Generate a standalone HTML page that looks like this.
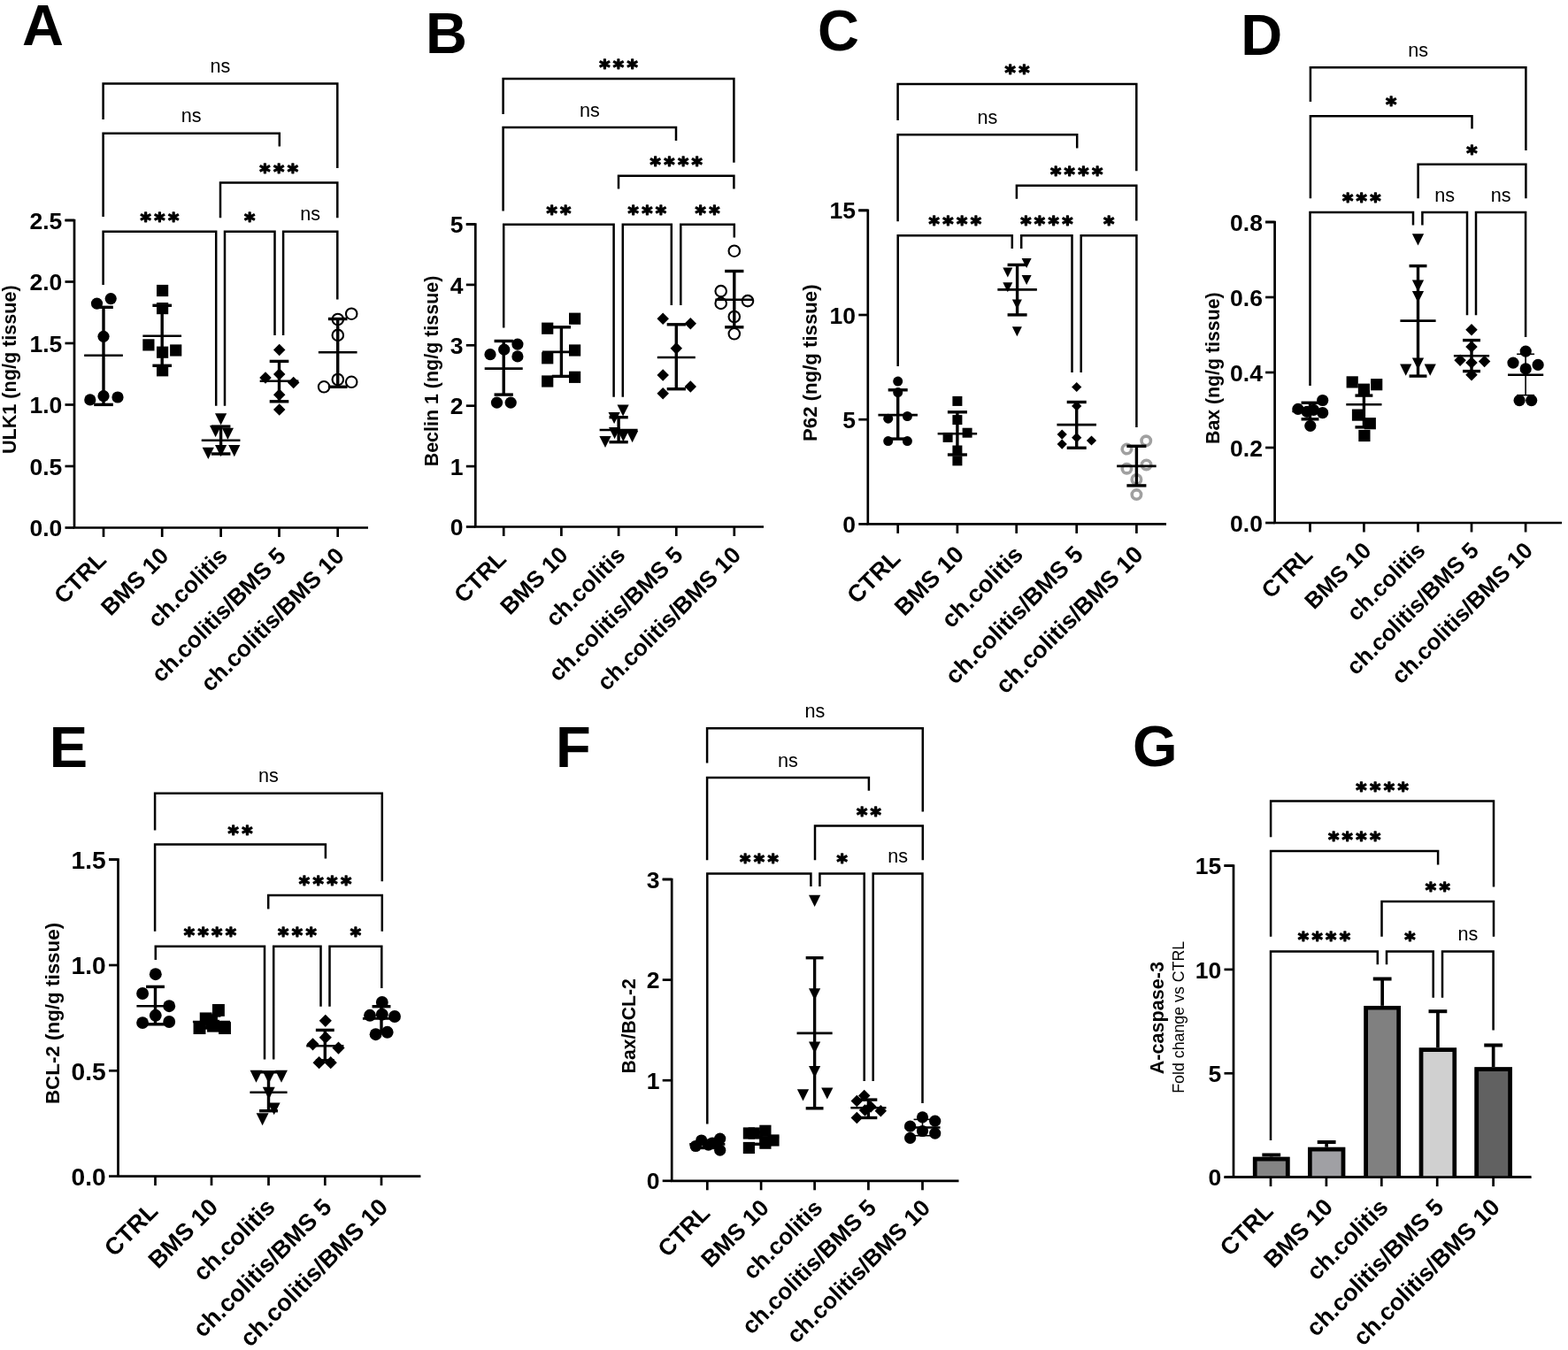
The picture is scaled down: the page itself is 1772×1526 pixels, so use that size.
<!DOCTYPE html>
<html><head><meta charset="utf-8"><title>Figure</title>
<style>html,body{margin:0;padding:0;background:#fff;width:1772px;height:1526px;overflow:hidden}svg{display:block}</style>
</head><body>
<svg width="1772" height="1526" viewBox="0 0 1772 1526">
<rect width="1772" height="1526" fill="#fff"/>
<polyline points="73.5,249 84,249 84,596.5 416,596.5" fill="none" stroke="#000" stroke-width="2.7"/>
<line x1="73.5" y1="596.5" x2="84" y2="596.5" stroke="#000" stroke-width="2.7" stroke-linecap="butt"/>
<text x="70.3" y="606.1" font-family="'Liberation Sans', Arial, sans-serif" font-size="26.5" font-weight="bold" text-anchor="end">0.0</text>
<line x1="73.5" y1="527" x2="84" y2="527" stroke="#000" stroke-width="2.7" stroke-linecap="butt"/>
<text x="70.3" y="536.6" font-family="'Liberation Sans', Arial, sans-serif" font-size="26.5" font-weight="bold" text-anchor="end">0.5</text>
<line x1="73.5" y1="457.5" x2="84" y2="457.5" stroke="#000" stroke-width="2.7" stroke-linecap="butt"/>
<text x="70.3" y="467.1" font-family="'Liberation Sans', Arial, sans-serif" font-size="26.5" font-weight="bold" text-anchor="end">1.0</text>
<line x1="73.5" y1="388" x2="84" y2="388" stroke="#000" stroke-width="2.7" stroke-linecap="butt"/>
<text x="70.3" y="397.6" font-family="'Liberation Sans', Arial, sans-serif" font-size="26.5" font-weight="bold" text-anchor="end">1.5</text>
<line x1="73.5" y1="318.5" x2="84" y2="318.5" stroke="#000" stroke-width="2.7" stroke-linecap="butt"/>
<text x="70.3" y="328.1" font-family="'Liberation Sans', Arial, sans-serif" font-size="26.5" font-weight="bold" text-anchor="end">2.0</text>
<line x1="73.5" y1="249" x2="84" y2="249" stroke="#000" stroke-width="2.7" stroke-linecap="butt"/>
<text x="70.3" y="258.6" font-family="'Liberation Sans', Arial, sans-serif" font-size="26.5" font-weight="bold" text-anchor="end">2.5</text>
<line x1="117" y1="596.5" x2="117" y2="607" stroke="#000" stroke-width="2.7" stroke-linecap="butt"/>
<line x1="183.2" y1="596.5" x2="183.2" y2="607" stroke="#000" stroke-width="2.7" stroke-linecap="butt"/>
<line x1="249.6" y1="596.5" x2="249.6" y2="607" stroke="#000" stroke-width="2.7" stroke-linecap="butt"/>
<line x1="315.5" y1="596.5" x2="315.5" y2="607" stroke="#000" stroke-width="2.7" stroke-linecap="butt"/>
<line x1="381.7" y1="596.5" x2="381.7" y2="607" stroke="#000" stroke-width="2.7" stroke-linecap="butt"/>
<text x="121.5" y="634.5" font-family="'Liberation Sans', Arial, sans-serif" font-size="26.3" font-weight="bold" text-anchor="end" transform="rotate(-45 121.5 634.5)">CTRL</text>
<text x="192.2" y="630" font-family="'Liberation Sans', Arial, sans-serif" font-size="26.3" font-weight="bold" text-anchor="end" transform="rotate(-45 192.2 630)">BMS 10</text>
<text x="258.6" y="630" font-family="'Liberation Sans', Arial, sans-serif" font-size="26.3" font-weight="bold" text-anchor="end" transform="rotate(-45 258.6 630)">ch.colitis</text>
<text x="324.5" y="630" font-family="'Liberation Sans', Arial, sans-serif" font-size="26.3" font-weight="bold" text-anchor="end" transform="rotate(-45 324.5 630)">ch.colitis/BMS 5</text>
<text x="390.7" y="630" font-family="'Liberation Sans', Arial, sans-serif" font-size="26.3" font-weight="bold" text-anchor="end" transform="rotate(-45 390.7 630)">ch.colitis/BMS 10</text>
<text x="17.9" y="417.7" font-family="'Liberation Sans', Arial, sans-serif" font-size="21.6" font-weight="bold" text-anchor="middle" transform="rotate(-90 17.9 417.7)">ULK1 (ng/g tissue)</text>
<text x="25" y="50.6" font-family="'Liberation Sans', Arial, sans-serif" font-size="65" font-weight="bold" text-anchor="start">A</text>
<polyline points="116.6,135 116.6,94.6 381.3,94.6 381.3,190" fill="none" stroke="#000" stroke-width="2.5" stroke-linejoin="miter"/>
<text x="248.95" y="82.2" font-family="'Liberation Sans', Arial, sans-serif" font-size="21.6" font-weight="normal" text-anchor="middle">ns</text>
<polyline points="116.6,245 116.6,150.7 315.8,150.7 315.8,165.6" fill="none" stroke="#000" stroke-width="2.5" stroke-linejoin="miter"/>
<text x="216.2" y="138.3" font-family="'Liberation Sans', Arial, sans-serif" font-size="21.6" font-weight="normal" text-anchor="middle">ns</text>
<polyline points="249,246.3 249,206.5 381.3,206.5 381.3,246.3" fill="none" stroke="#000" stroke-width="2.5" stroke-linejoin="miter"/>
<text x="316.85" y="201.54" font-family="'DejaVu Sans', 'Liberation Sans', sans-serif" font-size="23.5" font-weight="bold" text-anchor="middle" letter-spacing="3.4" stroke="#000" stroke-width="1.3" stroke-linejoin="round">***</text>
<polyline points="116.6,322 116.6,261.8 244.2,261.8 244.2,458.7" fill="none" stroke="#000" stroke-width="2.5" stroke-linejoin="miter"/>
<text x="182.1" y="256.84" font-family="'DejaVu Sans', 'Liberation Sans', sans-serif" font-size="23.5" font-weight="bold" text-anchor="middle" letter-spacing="3.4" stroke="#000" stroke-width="1.3" stroke-linejoin="round">***</text>
<polyline points="254,458.7 254,261.8 310.5,261.8 310.5,378.9" fill="none" stroke="#000" stroke-width="2.5" stroke-linejoin="miter"/>
<text x="283.95" y="256.84" font-family="'DejaVu Sans', 'Liberation Sans', sans-serif" font-size="23.5" font-weight="bold" text-anchor="middle" letter-spacing="3.4" stroke="#000" stroke-width="1.3" stroke-linejoin="round">*</text>
<polyline points="320.1,378.9 320.1,261.8 381.3,261.8 381.3,338.5" fill="none" stroke="#000" stroke-width="2.5" stroke-linejoin="miter"/>
<text x="350.7" y="249.4" font-family="'Liberation Sans', Arial, sans-serif" font-size="21.6" font-weight="normal" text-anchor="middle">ns</text>
<circle cx="109.5" cy="343.1" r="6.6" fill="#000"/>
<circle cx="125.2" cy="337.6" r="6.6" fill="#000"/>
<circle cx="117" cy="380.3" r="6.6" fill="#000"/>
<circle cx="101.8" cy="451.9" r="6.6" fill="#000"/>
<circle cx="117" cy="447.7" r="6.6" fill="#000"/>
<circle cx="133" cy="449" r="6.6" fill="#000"/>
<line x1="117" y1="347.3" x2="117" y2="457.4" stroke="#000" stroke-width="3.4" stroke-linecap="butt"/>
<line x1="106.19" y1="347.3" x2="127.81" y2="347.3" stroke="#000" stroke-width="3.4" stroke-linecap="butt"/>
<line x1="106.19" y1="457.4" x2="127.81" y2="457.4" stroke="#000" stroke-width="3.4" stroke-linecap="butt"/>
<line x1="95.16" y1="401.8" x2="138.84" y2="401.8" stroke="#000" stroke-width="2.6" stroke-linecap="butt"/>
<rect x="177" y="321.9" width="13.2" height="13.2" fill="#000"/>
<rect x="177" y="342" width="13.2" height="13.2" fill="#000"/>
<rect x="161.3" y="383.3" width="13.2" height="13.2" fill="#000"/>
<rect x="177" y="391.6" width="13.2" height="13.2" fill="#000"/>
<rect x="192.1" y="389.4" width="13.2" height="13.2" fill="#000"/>
<rect x="177" y="412.2" width="13.2" height="13.2" fill="#000"/>
<line x1="183.2" y1="345.3" x2="183.2" y2="413.3" stroke="#000" stroke-width="3.4" stroke-linecap="butt"/>
<line x1="172.39" y1="345.3" x2="194.01" y2="345.3" stroke="#000" stroke-width="3.4" stroke-linecap="butt"/>
<line x1="172.39" y1="413.3" x2="194.01" y2="413.3" stroke="#000" stroke-width="3.4" stroke-linecap="butt"/>
<line x1="161.36" y1="379.7" x2="205.04" y2="379.7" stroke="#000" stroke-width="2.6" stroke-linecap="butt"/>
<polygon points="243,467.2 256.2,467.2 249.6,480.4" fill="#000"/>
<polygon points="237,481 250.2,481 243.6,494.2" fill="#000"/>
<polygon points="250.8,483.7 264,483.7 257.4,496.9" fill="#000"/>
<polygon points="228.7,505.7 241.9,505.7 235.3,518.9" fill="#000"/>
<polygon points="243,503 256.2,503 249.6,516.2" fill="#000"/>
<polygon points="258.2,503 271.4,503 264.8,516.2" fill="#000"/>
<line x1="249.6" y1="482.1" x2="249.6" y2="513" stroke="#000" stroke-width="3.4" stroke-linecap="butt"/>
<line x1="238.79" y1="482.1" x2="260.41" y2="482.1" stroke="#000" stroke-width="3.4" stroke-linecap="butt"/>
<line x1="238.79" y1="513" x2="260.41" y2="513" stroke="#000" stroke-width="3.4" stroke-linecap="butt"/>
<line x1="227.76" y1="497.8" x2="271.44" y2="497.8" stroke="#000" stroke-width="2.6" stroke-linecap="butt"/>
<polygon points="315.7,388.67 322.43,395.4 315.7,402.13 308.97,395.4" fill="#000"/>
<polygon points="300,420.27 306.73,427 300,433.73 293.27,427" fill="#000"/>
<polygon points="315.7,416.27 322.43,423 315.7,429.73 308.97,423" fill="#000"/>
<polygon points="331.7,425.87 338.43,432.6 331.7,439.33 324.97,432.6" fill="#000"/>
<polygon points="315.7,439.47 322.43,446.2 315.7,452.93 308.97,446.2" fill="#000"/>
<polygon points="315.7,456.17 322.43,462.9 315.7,469.63 308.97,462.9" fill="#000"/>
<line x1="315.5" y1="408.4" x2="315.5" y2="453.8" stroke="#000" stroke-width="3.4" stroke-linecap="butt"/>
<line x1="304.69" y1="408.4" x2="326.31" y2="408.4" stroke="#000" stroke-width="3.4" stroke-linecap="butt"/>
<line x1="304.69" y1="453.8" x2="326.31" y2="453.8" stroke="#000" stroke-width="3.4" stroke-linecap="butt"/>
<line x1="293.66" y1="430.7" x2="337.34" y2="430.7" stroke="#000" stroke-width="2.6" stroke-linecap="butt"/>
<circle cx="397.2" cy="354.7" r="6.25" fill="none" stroke="#000" stroke-width="2.1"/>
<circle cx="381.8" cy="361" r="6.25" fill="none" stroke="#000" stroke-width="2.1"/>
<circle cx="381.8" cy="378.9" r="6.25" fill="none" stroke="#000" stroke-width="2.1"/>
<circle cx="366.1" cy="437.3" r="6.25" fill="none" stroke="#000" stroke-width="2.1"/>
<circle cx="381.8" cy="429" r="6.25" fill="none" stroke="#000" stroke-width="2.1"/>
<circle cx="397.2" cy="431.8" r="6.25" fill="none" stroke="#000" stroke-width="2.1"/>
<line x1="381.7" y1="360.5" x2="381.7" y2="437.3" stroke="#000" stroke-width="3.4" stroke-linecap="butt"/>
<line x1="370.89" y1="360.5" x2="392.51" y2="360.5" stroke="#000" stroke-width="3.4" stroke-linecap="butt"/>
<line x1="370.89" y1="437.3" x2="392.51" y2="437.3" stroke="#000" stroke-width="3.4" stroke-linecap="butt"/>
<line x1="359.86" y1="398.2" x2="403.54" y2="398.2" stroke="#000" stroke-width="2.6" stroke-linecap="butt"/>
<polyline points="526.8,253.5 537.3,253.5 537.3,595.5 863,595.5" fill="none" stroke="#000" stroke-width="2.7"/>
<line x1="526.8" y1="595.5" x2="537.3" y2="595.5" stroke="#000" stroke-width="2.7" stroke-linecap="butt"/>
<text x="523.6" y="605.1" font-family="'Liberation Sans', Arial, sans-serif" font-size="26.5" font-weight="bold" text-anchor="end">0</text>
<line x1="526.8" y1="527.1" x2="537.3" y2="527.1" stroke="#000" stroke-width="2.7" stroke-linecap="butt"/>
<text x="523.6" y="536.7" font-family="'Liberation Sans', Arial, sans-serif" font-size="26.5" font-weight="bold" text-anchor="end">1</text>
<line x1="526.8" y1="458.7" x2="537.3" y2="458.7" stroke="#000" stroke-width="2.7" stroke-linecap="butt"/>
<text x="523.6" y="468.3" font-family="'Liberation Sans', Arial, sans-serif" font-size="26.5" font-weight="bold" text-anchor="end">2</text>
<line x1="526.8" y1="390.3" x2="537.3" y2="390.3" stroke="#000" stroke-width="2.7" stroke-linecap="butt"/>
<text x="523.6" y="399.9" font-family="'Liberation Sans', Arial, sans-serif" font-size="26.5" font-weight="bold" text-anchor="end">3</text>
<line x1="526.8" y1="321.9" x2="537.3" y2="321.9" stroke="#000" stroke-width="2.7" stroke-linecap="butt"/>
<text x="523.6" y="331.5" font-family="'Liberation Sans', Arial, sans-serif" font-size="26.5" font-weight="bold" text-anchor="end">4</text>
<line x1="526.8" y1="253.5" x2="537.3" y2="253.5" stroke="#000" stroke-width="2.7" stroke-linecap="butt"/>
<text x="523.6" y="263.1" font-family="'Liberation Sans', Arial, sans-serif" font-size="26.5" font-weight="bold" text-anchor="end">5</text>
<line x1="569.2" y1="595.5" x2="569.2" y2="606" stroke="#000" stroke-width="2.7" stroke-linecap="butt"/>
<line x1="634.4" y1="595.5" x2="634.4" y2="606" stroke="#000" stroke-width="2.7" stroke-linecap="butt"/>
<line x1="699.1" y1="595.5" x2="699.1" y2="606" stroke="#000" stroke-width="2.7" stroke-linecap="butt"/>
<line x1="764.3" y1="595.5" x2="764.3" y2="606" stroke="#000" stroke-width="2.7" stroke-linecap="butt"/>
<line x1="829.8" y1="595.5" x2="829.8" y2="606" stroke="#000" stroke-width="2.7" stroke-linecap="butt"/>
<text x="573.7" y="633.5" font-family="'Liberation Sans', Arial, sans-serif" font-size="26.3" font-weight="bold" text-anchor="end" transform="rotate(-45 573.7 633.5)">CTRL</text>
<text x="643.4" y="629" font-family="'Liberation Sans', Arial, sans-serif" font-size="26.3" font-weight="bold" text-anchor="end" transform="rotate(-45 643.4 629)">BMS 10</text>
<text x="708.1" y="629" font-family="'Liberation Sans', Arial, sans-serif" font-size="26.3" font-weight="bold" text-anchor="end" transform="rotate(-45 708.1 629)">ch.colitis</text>
<text x="773.3" y="629" font-family="'Liberation Sans', Arial, sans-serif" font-size="26.3" font-weight="bold" text-anchor="end" transform="rotate(-45 773.3 629)">ch.colitis/BMS 5</text>
<text x="838.8" y="629" font-family="'Liberation Sans', Arial, sans-serif" font-size="26.3" font-weight="bold" text-anchor="end" transform="rotate(-45 838.8 629)">ch.colitis/BMS 10</text>
<text x="495" y="419.5" font-family="'Liberation Sans', Arial, sans-serif" font-size="21.45" font-weight="bold" text-anchor="middle" transform="rotate(-90 495 419.5)">Beclin 1 (ng/g tissue)</text>
<text x="481" y="60.2" font-family="'Liberation Sans', Arial, sans-serif" font-size="65" font-weight="bold" text-anchor="start">B</text>
<polyline points="568.6,129 568.6,88.9 829.4,88.9 829.4,183.8" fill="none" stroke="#000" stroke-width="2.5" stroke-linejoin="miter"/>
<text x="700.7" y="83.94" font-family="'DejaVu Sans', 'Liberation Sans', sans-serif" font-size="23.5" font-weight="bold" text-anchor="middle" letter-spacing="3.4" stroke="#000" stroke-width="1.3" stroke-linejoin="round">***</text>
<polyline points="568.6,238.4 568.6,144 764,144 764,159" fill="none" stroke="#000" stroke-width="2.5" stroke-linejoin="miter"/>
<text x="666.3" y="131.6" font-family="'Liberation Sans', Arial, sans-serif" font-size="21.6" font-weight="normal" text-anchor="middle">ns</text>
<polyline points="699,213.6 699,198.7 829.4,198.7 829.4,213.6" fill="none" stroke="#000" stroke-width="2.5" stroke-linejoin="miter"/>
<text x="765.9" y="193.74" font-family="'DejaVu Sans', 'Liberation Sans', sans-serif" font-size="23.5" font-weight="bold" text-anchor="middle" letter-spacing="3.4" stroke="#000" stroke-width="1.3" stroke-linejoin="round">****</text>
<polyline points="569.2,370.4 569.2,253.8 693.6,253.8 693.6,448.8" fill="none" stroke="#000" stroke-width="2.5" stroke-linejoin="miter"/>
<text x="633.1" y="248.84" font-family="'DejaVu Sans', 'Liberation Sans', sans-serif" font-size="23.5" font-weight="bold" text-anchor="middle" letter-spacing="3.4" stroke="#000" stroke-width="1.3" stroke-linejoin="round">**</text>
<polyline points="703.8,448.8 703.8,253.8 758.8,253.8 758.8,345" fill="none" stroke="#000" stroke-width="2.5" stroke-linejoin="miter"/>
<text x="733" y="248.84" font-family="'DejaVu Sans', 'Liberation Sans', sans-serif" font-size="23.5" font-weight="bold" text-anchor="middle" letter-spacing="3.4" stroke="#000" stroke-width="1.3" stroke-linejoin="round">***</text>
<polyline points="769.3,345 769.3,253.8 829.8,253.8 829.8,268.5" fill="none" stroke="#000" stroke-width="2.5" stroke-linejoin="miter"/>
<text x="801.25" y="248.84" font-family="'DejaVu Sans', 'Liberation Sans', sans-serif" font-size="23.5" font-weight="bold" text-anchor="middle" letter-spacing="3.4" stroke="#000" stroke-width="1.3" stroke-linejoin="round">**</text>
<circle cx="554" cy="400.7" r="6.6" fill="#000"/>
<circle cx="569.7" cy="395.2" r="6.6" fill="#000"/>
<circle cx="584.9" cy="389.1" r="6.6" fill="#000"/>
<circle cx="584.9" cy="402.9" r="6.6" fill="#000"/>
<circle cx="561.5" cy="455.2" r="6.6" fill="#000"/>
<circle cx="577.2" cy="455.2" r="6.6" fill="#000"/>
<line x1="569.2" y1="385.5" x2="569.2" y2="446.1" stroke="#000" stroke-width="3.4" stroke-linecap="butt"/>
<line x1="558.56" y1="385.5" x2="579.84" y2="385.5" stroke="#000" stroke-width="3.4" stroke-linecap="butt"/>
<line x1="558.56" y1="446.1" x2="579.84" y2="446.1" stroke="#000" stroke-width="3.4" stroke-linecap="butt"/>
<line x1="547.7" y1="416.6" x2="590.7" y2="416.6" stroke="#000" stroke-width="2.6" stroke-linecap="butt"/>
<rect x="612.1" y="364.6" width="13.2" height="13.2" fill="#000"/>
<rect x="643" y="353.6" width="13.2" height="13.2" fill="#000"/>
<rect x="612.1" y="398.2" width="13.2" height="13.2" fill="#000"/>
<rect x="643" y="389.4" width="13.2" height="13.2" fill="#000"/>
<rect x="612.1" y="424.4" width="13.2" height="13.2" fill="#000"/>
<rect x="643" y="419.7" width="13.2" height="13.2" fill="#000"/>
<line x1="634.4" y1="369.8" x2="634.4" y2="425.4" stroke="#000" stroke-width="3.4" stroke-linecap="butt"/>
<line x1="623.76" y1="369.8" x2="645.04" y2="369.8" stroke="#000" stroke-width="3.4" stroke-linecap="butt"/>
<line x1="623.76" y1="425.4" x2="645.04" y2="425.4" stroke="#000" stroke-width="3.4" stroke-linecap="butt"/>
<line x1="612.9" y1="397.9" x2="655.9" y2="397.9" stroke="#000" stroke-width="2.6" stroke-linecap="butt"/>
<polygon points="697.5,457.4 710.7,457.4 704.1,470.6" fill="#000"/>
<polygon points="687.5,465.9 700.7,465.9 694.1,479.1" fill="#000"/>
<polygon points="688,483 701.2,483 694.6,496.2" fill="#000"/>
<polygon points="677.4,492.9 690.6,492.9 684,506.1" fill="#000"/>
<polygon points="708,487 721.2,487 714.6,500.2" fill="#000"/>
<polygon points="697.8,486.1 711,486.1 704.4,499.3" fill="#000"/>
<line x1="699.1" y1="471.7" x2="699.1" y2="499.7" stroke="#000" stroke-width="3.4" stroke-linecap="butt"/>
<line x1="688.46" y1="471.7" x2="709.74" y2="471.7" stroke="#000" stroke-width="3.4" stroke-linecap="butt"/>
<line x1="688.46" y1="499.7" x2="709.74" y2="499.7" stroke="#000" stroke-width="3.4" stroke-linecap="butt"/>
<line x1="677.6" y1="486" x2="720.6" y2="486" stroke="#000" stroke-width="2.6" stroke-linecap="butt"/>
<polygon points="749.2,353.47 755.93,360.2 749.2,366.93 742.47,360.2" fill="#000"/>
<polygon points="780.3,358.97 787.03,365.7 780.3,372.43 773.57,365.7" fill="#000"/>
<polygon points="764.3,387.07 771.03,393.8 764.3,400.53 757.57,393.8" fill="#000"/>
<polygon points="749.2,417.27 755.93,424 749.2,430.73 742.47,424" fill="#000"/>
<polygon points="780.3,430.27 787.03,437 780.3,443.73 773.57,437" fill="#000"/>
<polygon points="749.2,437.97 755.93,444.7 749.2,451.43 742.47,444.7" fill="#000"/>
<line x1="764.3" y1="366.8" x2="764.3" y2="439.7" stroke="#000" stroke-width="3.4" stroke-linecap="butt"/>
<line x1="753.66" y1="366.8" x2="774.94" y2="366.8" stroke="#000" stroke-width="3.4" stroke-linecap="butt"/>
<line x1="753.66" y1="439.7" x2="774.94" y2="439.7" stroke="#000" stroke-width="3.4" stroke-linecap="butt"/>
<line x1="742.8" y1="404" x2="785.8" y2="404" stroke="#000" stroke-width="2.6" stroke-linecap="butt"/>
<circle cx="829.8" cy="283.7" r="6.25" fill="none" stroke="#000" stroke-width="2.1"/>
<circle cx="814.7" cy="329.1" r="6.25" fill="none" stroke="#000" stroke-width="2.1"/>
<circle cx="845" cy="340.1" r="6.25" fill="none" stroke="#000" stroke-width="2.1"/>
<circle cx="814.7" cy="342.9" r="6.25" fill="none" stroke="#000" stroke-width="2.1"/>
<circle cx="829.8" cy="358" r="6.25" fill="none" stroke="#000" stroke-width="2.1"/>
<circle cx="829.8" cy="377.3" r="6.25" fill="none" stroke="#000" stroke-width="2.1"/>
<line x1="829.8" y1="306.5" x2="829.8" y2="369.8" stroke="#000" stroke-width="3.4" stroke-linecap="butt"/>
<line x1="819.16" y1="306.5" x2="840.44" y2="306.5" stroke="#000" stroke-width="3.4" stroke-linecap="butt"/>
<line x1="819.16" y1="369.8" x2="840.44" y2="369.8" stroke="#000" stroke-width="3.4" stroke-linecap="butt"/>
<line x1="808.3" y1="338.7" x2="851.3" y2="338.7" stroke="#000" stroke-width="2.6" stroke-linecap="butt"/>
<polyline points="970.3,237.8 980.8,237.8 980.8,592.4 1318,592.4" fill="none" stroke="#000" stroke-width="2.7"/>
<line x1="970.3" y1="592.4" x2="980.8" y2="592.4" stroke="#000" stroke-width="2.7" stroke-linecap="butt"/>
<text x="967.1" y="602" font-family="'Liberation Sans', Arial, sans-serif" font-size="26.5" font-weight="bold" text-anchor="end">0</text>
<line x1="970.3" y1="474.2" x2="980.8" y2="474.2" stroke="#000" stroke-width="2.7" stroke-linecap="butt"/>
<text x="967.1" y="483.8" font-family="'Liberation Sans', Arial, sans-serif" font-size="26.5" font-weight="bold" text-anchor="end">5</text>
<line x1="970.3" y1="356" x2="980.8" y2="356" stroke="#000" stroke-width="2.7" stroke-linecap="butt"/>
<text x="967.1" y="365.6" font-family="'Liberation Sans', Arial, sans-serif" font-size="26.5" font-weight="bold" text-anchor="end">10</text>
<line x1="970.3" y1="237.8" x2="980.8" y2="237.8" stroke="#000" stroke-width="2.7" stroke-linecap="butt"/>
<text x="967.1" y="247.4" font-family="'Liberation Sans', Arial, sans-serif" font-size="26.5" font-weight="bold" text-anchor="end">15</text>
<line x1="1014.7" y1="592.4" x2="1014.7" y2="602.9" stroke="#000" stroke-width="2.7" stroke-linecap="butt"/>
<line x1="1081.9" y1="592.4" x2="1081.9" y2="602.9" stroke="#000" stroke-width="2.7" stroke-linecap="butt"/>
<line x1="1148.7" y1="592.4" x2="1148.7" y2="602.9" stroke="#000" stroke-width="2.7" stroke-linecap="butt"/>
<line x1="1216.7" y1="592.4" x2="1216.7" y2="602.9" stroke="#000" stroke-width="2.7" stroke-linecap="butt"/>
<line x1="1284.4" y1="592.4" x2="1284.4" y2="602.9" stroke="#000" stroke-width="2.7" stroke-linecap="butt"/>
<text x="1019.2" y="632.9" font-family="'Liberation Sans', Arial, sans-serif" font-size="27" font-weight="bold" text-anchor="end" transform="rotate(-45 1019.2 632.9)">CTRL</text>
<text x="1090.9" y="628.4" font-family="'Liberation Sans', Arial, sans-serif" font-size="27" font-weight="bold" text-anchor="end" transform="rotate(-45 1090.9 628.4)">BMS 10</text>
<text x="1157.7" y="628.4" font-family="'Liberation Sans', Arial, sans-serif" font-size="27" font-weight="bold" text-anchor="end" transform="rotate(-45 1157.7 628.4)">ch.colitis</text>
<text x="1225.7" y="628.4" font-family="'Liberation Sans', Arial, sans-serif" font-size="27" font-weight="bold" text-anchor="end" transform="rotate(-45 1225.7 628.4)">ch.colitis/BMS 5</text>
<text x="1293.4" y="628.4" font-family="'Liberation Sans', Arial, sans-serif" font-size="27" font-weight="bold" text-anchor="end" transform="rotate(-45 1293.4 628.4)">ch.colitis/BMS 10</text>
<text x="923.5" y="410.2" font-family="'Liberation Sans', Arial, sans-serif" font-size="22.2" font-weight="bold" text-anchor="middle" transform="rotate(-90 923.5 410.2)">P62 (ng/g tissue)</text>
<text x="924" y="56.5" font-family="'Liberation Sans', Arial, sans-serif" font-size="65" font-weight="bold" text-anchor="start">C</text>
<polyline points="1014.6,136 1014.6,95.1 1284.3,95.1 1284.3,193.2" fill="none" stroke="#000" stroke-width="2.5" stroke-linejoin="miter"/>
<text x="1151.15" y="90.14" font-family="'DejaVu Sans', 'Liberation Sans', sans-serif" font-size="23.5" font-weight="bold" text-anchor="middle" letter-spacing="3.4" stroke="#000" stroke-width="1.3" stroke-linejoin="round">**</text>
<polyline points="1014.6,250.3 1014.6,152.2 1217.2,152.2 1217.2,167.6" fill="none" stroke="#000" stroke-width="2.5" stroke-linejoin="miter"/>
<text x="1115.9" y="139.8" font-family="'Liberation Sans', Arial, sans-serif" font-size="21.6" font-weight="normal" text-anchor="middle">ns</text>
<polyline points="1148.9,224.7 1148.9,209.8 1284.3,209.8 1284.3,249.6" fill="none" stroke="#000" stroke-width="2.5" stroke-linejoin="miter"/>
<text x="1218.3" y="204.84" font-family="'DejaVu Sans', 'Liberation Sans', sans-serif" font-size="23.5" font-weight="bold" text-anchor="middle" letter-spacing="3.4" stroke="#000" stroke-width="1.3" stroke-linejoin="round">****</text>
<polyline points="1014.7,414 1014.7,266.2 1143.8,266.2 1143.8,281.1" fill="none" stroke="#000" stroke-width="2.5" stroke-linejoin="miter"/>
<text x="1080.95" y="261.24" font-family="'DejaVu Sans', 'Liberation Sans', sans-serif" font-size="23.5" font-weight="bold" text-anchor="middle" letter-spacing="3.4" stroke="#000" stroke-width="1.3" stroke-linejoin="round">****</text>
<polyline points="1154.2,281.1 1154.2,266.2 1211.5,266.2 1211.5,421" fill="none" stroke="#000" stroke-width="2.5" stroke-linejoin="miter"/>
<text x="1184.55" y="261.24" font-family="'DejaVu Sans', 'Liberation Sans', sans-serif" font-size="23.5" font-weight="bold" text-anchor="middle" letter-spacing="3.4" stroke="#000" stroke-width="1.3" stroke-linejoin="round">****</text>
<polyline points="1221.7,421 1221.7,266.2 1284.4,266.2 1284.4,482.9" fill="none" stroke="#000" stroke-width="2.5" stroke-linejoin="miter"/>
<text x="1254.75" y="261.24" font-family="'DejaVu Sans', 'Liberation Sans', sans-serif" font-size="23.5" font-weight="bold" text-anchor="middle" letter-spacing="3.4" stroke="#000" stroke-width="1.3" stroke-linejoin="round">*</text>
<circle cx="1014.7" cy="431.1" r="5.5" fill="#000"/>
<circle cx="1014.7" cy="443.5" r="5.5" fill="#000"/>
<circle cx="1003.7" cy="473.2" r="5.5" fill="#000"/>
<circle cx="1025.4" cy="470.5" r="5.5" fill="#000"/>
<circle cx="1003.7" cy="498.6" r="5.5" fill="#000"/>
<circle cx="1025.4" cy="498.6" r="5.5" fill="#000"/>
<line x1="1014.7" y1="440.8" x2="1014.7" y2="496.1" stroke="#000" stroke-width="3.4" stroke-linecap="butt"/>
<line x1="1003.69" y1="440.8" x2="1025.71" y2="440.8" stroke="#000" stroke-width="3.4" stroke-linecap="butt"/>
<line x1="1003.69" y1="496.1" x2="1025.71" y2="496.1" stroke="#000" stroke-width="3.4" stroke-linecap="butt"/>
<line x1="992.45" y1="469.1" x2="1036.95" y2="469.1" stroke="#000" stroke-width="2.6" stroke-linecap="butt"/>
<rect x="1076.4" y="447.9" width="11" height="11" fill="#000"/>
<rect x="1076.4" y="469.1" width="11" height="11" fill="#000"/>
<rect x="1065.6" y="488.9" width="11" height="11" fill="#000"/>
<rect x="1087.6" y="483.7" width="11" height="11" fill="#000"/>
<rect x="1076.4" y="503.5" width="11" height="11" fill="#000"/>
<rect x="1076.4" y="515.4" width="11" height="11" fill="#000"/>
<line x1="1081.9" y1="465.8" x2="1081.9" y2="514" stroke="#000" stroke-width="3.4" stroke-linecap="butt"/>
<line x1="1070.89" y1="465.8" x2="1092.91" y2="465.8" stroke="#000" stroke-width="3.4" stroke-linecap="butt"/>
<line x1="1070.89" y1="514" x2="1092.91" y2="514" stroke="#000" stroke-width="3.4" stroke-linecap="butt"/>
<line x1="1059.65" y1="490.3" x2="1104.15" y2="490.3" stroke="#000" stroke-width="2.6" stroke-linecap="butt"/>
<polygon points="1154.6,292 1165.6,292 1160.1,303" fill="#000"/>
<polygon points="1133.3,302.4 1144.3,302.4 1138.8,313.4" fill="#000"/>
<polygon points="1154.6,311 1165.6,311 1160.1,322" fill="#000"/>
<polygon points="1133.3,319.2 1144.3,319.2 1138.8,330.2" fill="#000"/>
<polygon points="1143.9,338.5 1154.9,338.5 1149.4,349.5" fill="#000"/>
<polygon points="1143.9,369.3 1154.9,369.3 1149.4,380.3" fill="#000"/>
<line x1="1149.6" y1="299.4" x2="1149.6" y2="355.9" stroke="#000" stroke-width="3.4" stroke-linecap="butt"/>
<line x1="1138.59" y1="299.4" x2="1160.61" y2="299.4" stroke="#000" stroke-width="3.4" stroke-linecap="butt"/>
<line x1="1138.59" y1="355.9" x2="1160.61" y2="355.9" stroke="#000" stroke-width="3.4" stroke-linecap="butt"/>
<line x1="1127.35" y1="327.4" x2="1171.85" y2="327.4" stroke="#000" stroke-width="2.6" stroke-linecap="butt"/>
<polygon points="1216.7,431.89 1222.31,437.5 1216.7,443.11 1211.09,437.5" fill="#000"/>
<polygon points="1216.7,453.29 1222.31,458.9 1216.7,464.51 1211.09,458.9" fill="#000"/>
<polygon points="1200.2,485.49 1205.81,491.1 1200.2,496.71 1194.59,491.1" fill="#000"/>
<polygon points="1216.7,489.09 1222.31,494.7 1216.7,500.31 1211.09,494.7" fill="#000"/>
<polygon points="1233.5,492.39 1239.11,498 1233.5,503.61 1227.89,498" fill="#000"/>
<polygon points="1200.2,496.49 1205.81,502.1 1200.2,507.71 1194.59,502.1" fill="#000"/>
<line x1="1216.7" y1="454.5" x2="1216.7" y2="506.3" stroke="#000" stroke-width="3.4" stroke-linecap="butt"/>
<line x1="1205.69" y1="454.5" x2="1227.71" y2="454.5" stroke="#000" stroke-width="3.4" stroke-linecap="butt"/>
<line x1="1205.69" y1="506.3" x2="1227.71" y2="506.3" stroke="#000" stroke-width="3.4" stroke-linecap="butt"/>
<line x1="1194.45" y1="480.1" x2="1238.95" y2="480.1" stroke="#000" stroke-width="2.6" stroke-linecap="butt"/>
<circle cx="1295.2" cy="498.3" r="5.2" fill="none" stroke="#a0a0a0" stroke-width="3.6"/>
<circle cx="1273.4" cy="507.6" r="5.2" fill="none" stroke="#a0a0a0" stroke-width="3.6"/>
<circle cx="1273.4" cy="529.7" r="5.2" fill="none" stroke="#a0a0a0" stroke-width="3.6"/>
<circle cx="1295.5" cy="525.5" r="5.2" fill="none" stroke="#a0a0a0" stroke-width="3.6"/>
<circle cx="1284.4" cy="542" r="5.2" fill="none" stroke="#a0a0a0" stroke-width="3.6"/>
<circle cx="1284.4" cy="559.1" r="5.2" fill="none" stroke="#a0a0a0" stroke-width="3.6"/>
<line x1="1284.4" y1="504.3" x2="1284.4" y2="548.9" stroke="#000" stroke-width="3.4" stroke-linecap="butt"/>
<line x1="1273.39" y1="504.3" x2="1295.41" y2="504.3" stroke="#000" stroke-width="3.4" stroke-linecap="butt"/>
<line x1="1273.39" y1="548.9" x2="1295.41" y2="548.9" stroke="#000" stroke-width="3.4" stroke-linecap="butt"/>
<line x1="1262.15" y1="526.9" x2="1306.65" y2="526.9" stroke="#000" stroke-width="2.6" stroke-linecap="butt"/>
<polyline points="1430.1,251 1440.6,251 1440.6,591 1765,591" fill="none" stroke="#000" stroke-width="2.7"/>
<line x1="1430.1" y1="591" x2="1440.6" y2="591" stroke="#000" stroke-width="2.7" stroke-linecap="butt"/>
<text x="1426.9" y="600.6" font-family="'Liberation Sans', Arial, sans-serif" font-size="26.5" font-weight="bold" text-anchor="end">0.0</text>
<line x1="1430.1" y1="506" x2="1440.6" y2="506" stroke="#000" stroke-width="2.7" stroke-linecap="butt"/>
<text x="1426.9" y="515.6" font-family="'Liberation Sans', Arial, sans-serif" font-size="26.5" font-weight="bold" text-anchor="end">0.2</text>
<line x1="1430.1" y1="421" x2="1440.6" y2="421" stroke="#000" stroke-width="2.7" stroke-linecap="butt"/>
<text x="1426.9" y="430.6" font-family="'Liberation Sans', Arial, sans-serif" font-size="26.5" font-weight="bold" text-anchor="end">0.4</text>
<line x1="1430.1" y1="336" x2="1440.6" y2="336" stroke="#000" stroke-width="2.7" stroke-linecap="butt"/>
<text x="1426.9" y="345.6" font-family="'Liberation Sans', Arial, sans-serif" font-size="26.5" font-weight="bold" text-anchor="end">0.6</text>
<line x1="1430.1" y1="251" x2="1440.6" y2="251" stroke="#000" stroke-width="2.7" stroke-linecap="butt"/>
<text x="1426.9" y="260.6" font-family="'Liberation Sans', Arial, sans-serif" font-size="26.5" font-weight="bold" text-anchor="end">0.8</text>
<line x1="1480.5" y1="591" x2="1480.5" y2="601.5" stroke="#000" stroke-width="2.7" stroke-linecap="butt"/>
<line x1="1541.4" y1="591" x2="1541.4" y2="601.5" stroke="#000" stroke-width="2.7" stroke-linecap="butt"/>
<line x1="1602.5" y1="591" x2="1602.5" y2="601.5" stroke="#000" stroke-width="2.7" stroke-linecap="butt"/>
<line x1="1663" y1="591" x2="1663" y2="601.5" stroke="#000" stroke-width="2.7" stroke-linecap="butt"/>
<line x1="1724.1" y1="591" x2="1724.1" y2="601.5" stroke="#000" stroke-width="2.7" stroke-linecap="butt"/>
<text x="1485" y="629" font-family="'Liberation Sans', Arial, sans-serif" font-size="25.9" font-weight="bold" text-anchor="end" transform="rotate(-45 1485 629)">CTRL</text>
<text x="1551.1" y="623.8" font-family="'Liberation Sans', Arial, sans-serif" font-size="25.9" font-weight="bold" text-anchor="end" transform="rotate(-45 1551.1 623.8)">BMS 10</text>
<text x="1612.2" y="623.8" font-family="'Liberation Sans', Arial, sans-serif" font-size="25.9" font-weight="bold" text-anchor="end" transform="rotate(-45 1612.2 623.8)">ch.colitis</text>
<text x="1672.7" y="623.8" font-family="'Liberation Sans', Arial, sans-serif" font-size="25.9" font-weight="bold" text-anchor="end" transform="rotate(-45 1672.7 623.8)">ch.colitis/BMS 5</text>
<text x="1733.8" y="623.8" font-family="'Liberation Sans', Arial, sans-serif" font-size="25.9" font-weight="bold" text-anchor="end" transform="rotate(-45 1733.8 623.8)">ch.colitis/BMS 10</text>
<text x="1378.5" y="416.2" font-family="'Liberation Sans', Arial, sans-serif" font-size="21.3" font-weight="bold" text-anchor="middle" transform="rotate(-90 1378.5 416.2)">Bax (ng/g tissue)</text>
<text x="1402.2" y="62" font-family="'Liberation Sans', Arial, sans-serif" font-size="65" font-weight="bold" text-anchor="start">D</text>
<polyline points="1480.9,115 1480.9,76.3 1724.4,76.3 1724.4,170" fill="none" stroke="#000" stroke-width="2.5" stroke-linejoin="miter"/>
<text x="1602.65" y="63.9" font-family="'Liberation Sans', Arial, sans-serif" font-size="21.6" font-weight="normal" text-anchor="middle">ns</text>
<polyline points="1480.9,224.3 1480.9,131.2 1663.5,131.2 1663.5,145.5" fill="none" stroke="#000" stroke-width="2.5" stroke-linejoin="miter"/>
<text x="1573.9" y="126.24" font-family="'DejaVu Sans', 'Liberation Sans', sans-serif" font-size="23.5" font-weight="bold" text-anchor="middle" letter-spacing="3.4" stroke="#000" stroke-width="1.3" stroke-linejoin="round">*</text>
<polyline points="1602.6,224.3 1602.6,185.8 1724.4,185.8 1724.4,224.3" fill="none" stroke="#000" stroke-width="2.5" stroke-linejoin="miter"/>
<text x="1665.2" y="180.84" font-family="'DejaVu Sans', 'Liberation Sans', sans-serif" font-size="23.5" font-weight="bold" text-anchor="middle" letter-spacing="3.4" stroke="#000" stroke-width="1.3" stroke-linejoin="round">*</text>
<polyline points="1480.5,436 1480.5,240.1 1597,240.1 1597,254.6" fill="none" stroke="#000" stroke-width="2.5" stroke-linejoin="miter"/>
<text x="1540.45" y="235.14" font-family="'DejaVu Sans', 'Liberation Sans', sans-serif" font-size="23.5" font-weight="bold" text-anchor="middle" letter-spacing="3.4" stroke="#000" stroke-width="1.3" stroke-linejoin="round">***</text>
<polyline points="1607.4,254.6 1607.4,240.1 1658,240.1 1658,356.3" fill="none" stroke="#000" stroke-width="2.5" stroke-linejoin="miter"/>
<text x="1632.7" y="227.7" font-family="'Liberation Sans', Arial, sans-serif" font-size="21.6" font-weight="normal" text-anchor="middle">ns</text>
<polyline points="1668,356.3 1668,240.1 1724.1,240.1 1724.1,381" fill="none" stroke="#000" stroke-width="2.5" stroke-linejoin="miter"/>
<text x="1696.05" y="227.7" font-family="'Liberation Sans', Arial, sans-serif" font-size="21.6" font-weight="normal" text-anchor="middle">ns</text>
<circle cx="1466.9" cy="462.3" r="6.6" fill="#000"/>
<circle cx="1477.1" cy="465.4" r="6.6" fill="#000"/>
<circle cx="1484.5" cy="463.3" r="6.6" fill="#000"/>
<circle cx="1494.7" cy="452.5" r="6.6" fill="#000"/>
<circle cx="1494.7" cy="466.7" r="6.6" fill="#000"/>
<circle cx="1480.8" cy="481.3" r="6.6" fill="#000"/>
<line x1="1480.5" y1="455.3" x2="1480.5" y2="473.8" stroke="#000" stroke-width="3.4" stroke-linecap="butt"/>
<line x1="1470.55" y1="455.3" x2="1490.45" y2="455.3" stroke="#000" stroke-width="3.4" stroke-linecap="butt"/>
<line x1="1470.55" y1="473.8" x2="1490.45" y2="473.8" stroke="#000" stroke-width="3.4" stroke-linecap="butt"/>
<line x1="1460.4" y1="465" x2="1500.6" y2="465" stroke="#000" stroke-width="2.6" stroke-linecap="butt"/>
<rect x="1521.6" y="425.3" width="13.2" height="13.2" fill="#000"/>
<rect x="1549.1" y="428.1" width="13.2" height="13.2" fill="#000"/>
<rect x="1534.8" y="433.6" width="13.2" height="13.2" fill="#000"/>
<rect x="1527.9" y="462.5" width="13.2" height="13.2" fill="#000"/>
<rect x="1541.7" y="472.1" width="13.2" height="13.2" fill="#000"/>
<rect x="1535.3" y="485.9" width="13.2" height="13.2" fill="#000"/>
<line x1="1541.4" y1="447.1" x2="1541.4" y2="482.9" stroke="#000" stroke-width="3.4" stroke-linecap="butt"/>
<line x1="1531.45" y1="447.1" x2="1551.35" y2="447.1" stroke="#000" stroke-width="3.4" stroke-linecap="butt"/>
<line x1="1531.45" y1="482.9" x2="1551.35" y2="482.9" stroke="#000" stroke-width="3.4" stroke-linecap="butt"/>
<line x1="1521.3" y1="457.3" x2="1561.5" y2="457.3" stroke="#000" stroke-width="2.6" stroke-linecap="butt"/>
<polygon points="1595.9,264.2 1609.1,264.2 1602.5,277.4" fill="#000"/>
<polygon points="1595.9,316.5 1609.1,316.5 1602.5,329.7" fill="#000"/>
<polygon points="1595.9,328.9 1609.1,328.9 1602.5,342.1" fill="#000"/>
<polygon points="1582.1,411.5 1595.3,411.5 1588.7,424.7" fill="#000"/>
<polygon points="1595.9,404.6 1609.1,404.6 1602.5,417.8" fill="#000"/>
<polygon points="1609.6,411.5 1622.8,411.5 1616.2,424.7" fill="#000"/>
<line x1="1602.5" y1="300.6" x2="1602.5" y2="425.1" stroke="#000" stroke-width="3.4" stroke-linecap="butt"/>
<line x1="1592.55" y1="300.6" x2="1612.45" y2="300.6" stroke="#000" stroke-width="3.4" stroke-linecap="butt"/>
<line x1="1592.55" y1="425.1" x2="1612.45" y2="425.1" stroke="#000" stroke-width="3.4" stroke-linecap="butt"/>
<line x1="1582.4" y1="362.6" x2="1622.6" y2="362.6" stroke="#000" stroke-width="2.6" stroke-linecap="butt"/>
<polygon points="1663,366.07 1669.73,372.8 1663,379.53 1656.27,372.8" fill="#000"/>
<polygon points="1663,385.27 1669.73,392 1663,398.73 1656.27,392" fill="#000"/>
<polygon points="1650.1,400.47 1656.83,407.2 1650.1,413.93 1643.37,407.2" fill="#000"/>
<polygon points="1663,403.17 1669.73,409.9 1663,416.63 1656.27,409.9" fill="#000"/>
<polygon points="1677.6,401.77 1684.33,408.5 1677.6,415.23 1670.87,408.5" fill="#000"/>
<polygon points="1663,416.97 1669.73,423.7 1663,430.43 1656.27,423.7" fill="#000"/>
<line x1="1663" y1="384.6" x2="1663" y2="419.6" stroke="#000" stroke-width="3.4" stroke-linecap="butt"/>
<line x1="1653.05" y1="384.6" x2="1672.95" y2="384.6" stroke="#000" stroke-width="3.4" stroke-linecap="butt"/>
<line x1="1653.05" y1="419.6" x2="1672.95" y2="419.6" stroke="#000" stroke-width="3.4" stroke-linecap="butt"/>
<line x1="1642.9" y1="402.2" x2="1683.1" y2="402.2" stroke="#000" stroke-width="2.6" stroke-linecap="butt"/>
<circle cx="1724.2" cy="397.1" r="6.6" fill="#000"/>
<circle cx="1710" cy="410.1" r="6.6" fill="#000"/>
<circle cx="1738.1" cy="412.4" r="6.6" fill="#000"/>
<circle cx="1724.2" cy="416.9" r="6.6" fill="#000"/>
<circle cx="1717.1" cy="452.6" r="6.6" fill="#000"/>
<circle cx="1730.7" cy="452.6" r="6.6" fill="#000"/>
<line x1="1724.1" y1="400.3" x2="1724.1" y2="446.7" stroke="#000" stroke-width="1.6" stroke-linecap="butt"/>
<line x1="1714.15" y1="400.3" x2="1734.05" y2="400.3" stroke="#000" stroke-width="1.6" stroke-linecap="butt"/>
<line x1="1714.15" y1="446.7" x2="1734.05" y2="446.7" stroke="#000" stroke-width="1.6" stroke-linecap="butt"/>
<line x1="1704" y1="423.7" x2="1744.2" y2="423.7" stroke="#000" stroke-width="2.6" stroke-linecap="butt"/>
<polyline points="123,971.7 133.5,971.7 133.5,1329.6 475.4,1329.6" fill="none" stroke="#000" stroke-width="2.7"/>
<line x1="123" y1="1329.6" x2="133.5" y2="1329.6" stroke="#000" stroke-width="2.7" stroke-linecap="butt"/>
<text x="119.8" y="1339.82" font-family="'Liberation Sans', Arial, sans-serif" font-size="28.2" font-weight="bold" text-anchor="end">0.0</text>
<line x1="123" y1="1210.3" x2="133.5" y2="1210.3" stroke="#000" stroke-width="2.7" stroke-linecap="butt"/>
<text x="119.8" y="1220.52" font-family="'Liberation Sans', Arial, sans-serif" font-size="28.2" font-weight="bold" text-anchor="end">0.5</text>
<line x1="123" y1="1091" x2="133.5" y2="1091" stroke="#000" stroke-width="2.7" stroke-linecap="butt"/>
<text x="119.8" y="1101.22" font-family="'Liberation Sans', Arial, sans-serif" font-size="28.2" font-weight="bold" text-anchor="end">1.0</text>
<line x1="123" y1="971.7" x2="133.5" y2="971.7" stroke="#000" stroke-width="2.7" stroke-linecap="butt"/>
<text x="119.8" y="981.92" font-family="'Liberation Sans', Arial, sans-serif" font-size="28.2" font-weight="bold" text-anchor="end">1.5</text>
<line x1="175.5" y1="1329.6" x2="175.5" y2="1340.1" stroke="#000" stroke-width="2.7" stroke-linecap="butt"/>
<line x1="239" y1="1329.6" x2="239" y2="1340.1" stroke="#000" stroke-width="2.7" stroke-linecap="butt"/>
<line x1="303.5" y1="1329.6" x2="303.5" y2="1340.1" stroke="#000" stroke-width="2.7" stroke-linecap="butt"/>
<line x1="367.3" y1="1329.6" x2="367.3" y2="1340.1" stroke="#000" stroke-width="2.7" stroke-linecap="butt"/>
<line x1="431" y1="1329.6" x2="431" y2="1340.1" stroke="#000" stroke-width="2.7" stroke-linecap="butt"/>
<text x="180" y="1370.6" font-family="'Liberation Sans', Arial, sans-serif" font-size="27.1" font-weight="bold" text-anchor="end" transform="rotate(-45 180 1370.6)">CTRL</text>
<text x="248" y="1366.1" font-family="'Liberation Sans', Arial, sans-serif" font-size="27.1" font-weight="bold" text-anchor="end" transform="rotate(-45 248 1366.1)">BMS 10</text>
<text x="312.5" y="1366.1" font-family="'Liberation Sans', Arial, sans-serif" font-size="27.1" font-weight="bold" text-anchor="end" transform="rotate(-45 312.5 1366.1)">ch.colitis</text>
<text x="376.3" y="1366.1" font-family="'Liberation Sans', Arial, sans-serif" font-size="27.1" font-weight="bold" text-anchor="end" transform="rotate(-45 376.3 1366.1)">ch.colitis/BMS 5</text>
<text x="440" y="1366.1" font-family="'Liberation Sans', Arial, sans-serif" font-size="27.1" font-weight="bold" text-anchor="end" transform="rotate(-45 440 1366.1)">ch.colitis/BMS 10</text>
<text x="66.8" y="1145.5" font-family="'Liberation Sans', Arial, sans-serif" font-size="22.4" font-weight="bold" text-anchor="middle" transform="rotate(-90 66.8 1145.5)">BCL-2 (ng/g tissue)</text>
<text x="55.8" y="867" font-family="'Liberation Sans', Arial, sans-serif" font-size="65" font-weight="bold" text-anchor="start">E</text>
<polyline points="175.1,938.6 175.1,896.7 431.8,896.7 431.8,996.2" fill="none" stroke="#000" stroke-width="2.5" stroke-linejoin="miter"/>
<text x="303.45" y="884.3" font-family="'Liberation Sans', Arial, sans-serif" font-size="21.6" font-weight="normal" text-anchor="middle">ns</text>
<polyline points="175.1,1052.7 175.1,954.5 367.9,954.5 367.9,970.4" fill="none" stroke="#000" stroke-width="2.5" stroke-linejoin="miter"/>
<text x="273.2" y="949.54" font-family="'DejaVu Sans', 'Liberation Sans', sans-serif" font-size="23.5" font-weight="bold" text-anchor="middle" letter-spacing="3.4" stroke="#000" stroke-width="1.3" stroke-linejoin="round">**</text>
<polyline points="303.2,1027.5 303.2,1012.1 431.8,1012.1 431.8,1052.7" fill="none" stroke="#000" stroke-width="2.5" stroke-linejoin="miter"/>
<text x="369.2" y="1007.14" font-family="'DejaVu Sans', 'Liberation Sans', sans-serif" font-size="23.5" font-weight="bold" text-anchor="middle" letter-spacing="3.4" stroke="#000" stroke-width="1.3" stroke-linejoin="round">****</text>
<polyline points="175.8,1085 175.8,1069.7 299,1069.7 299,1197.6" fill="none" stroke="#000" stroke-width="2.5" stroke-linejoin="miter"/>
<text x="239.1" y="1064.74" font-family="'DejaVu Sans', 'Liberation Sans', sans-serif" font-size="23.5" font-weight="bold" text-anchor="middle" letter-spacing="3.4" stroke="#000" stroke-width="1.3" stroke-linejoin="round">****</text>
<polyline points="309.2,1197.6 309.2,1069.7 362.5,1069.7 362.5,1137.7" fill="none" stroke="#000" stroke-width="2.5" stroke-linejoin="miter"/>
<text x="337.55" y="1064.74" font-family="'DejaVu Sans', 'Liberation Sans', sans-serif" font-size="23.5" font-weight="bold" text-anchor="middle" letter-spacing="3.4" stroke="#000" stroke-width="1.3" stroke-linejoin="round">***</text>
<polyline points="372.5,1137.7 372.5,1069.7 431.3,1069.7 431.3,1117" fill="none" stroke="#000" stroke-width="2.5" stroke-linejoin="miter"/>
<text x="403.6" y="1064.74" font-family="'DejaVu Sans', 'Liberation Sans', sans-serif" font-size="23.5" font-weight="bold" text-anchor="middle" letter-spacing="3.4" stroke="#000" stroke-width="1.3" stroke-linejoin="round">*</text>
<circle cx="175.8" cy="1101.2" r="6.95" fill="#000"/>
<circle cx="161.1" cy="1123" r="6.95" fill="#000"/>
<circle cx="191.2" cy="1137.2" r="6.95" fill="#000"/>
<circle cx="175.8" cy="1147.8" r="6.95" fill="#000"/>
<circle cx="161.1" cy="1156.1" r="6.95" fill="#000"/>
<circle cx="191.2" cy="1155" r="6.95" fill="#000"/>
<line x1="175.5" y1="1115.4" x2="175.5" y2="1157.8" stroke="#000" stroke-width="3.4" stroke-linecap="butt"/>
<line x1="165.06" y1="1115.4" x2="185.94" y2="1115.4" stroke="#000" stroke-width="3.4" stroke-linecap="butt"/>
<line x1="165.06" y1="1157.8" x2="185.94" y2="1157.8" stroke="#000" stroke-width="3.4" stroke-linecap="butt"/>
<line x1="154.42" y1="1137.2" x2="196.58" y2="1137.2" stroke="#000" stroke-width="2.6" stroke-linecap="butt"/>
<rect x="239.95" y="1134.95" width="13.9" height="13.9" fill="#000"/>
<rect x="225.75" y="1144.45" width="13.9" height="13.9" fill="#000"/>
<rect x="218.55" y="1155.15" width="13.9" height="13.9" fill="#000"/>
<rect x="234.05" y="1152.75" width="13.9" height="13.9" fill="#000"/>
<rect x="247.05" y="1155.15" width="13.9" height="13.9" fill="#000"/>
<rect x="232.05" y="1148.05" width="13.9" height="13.9" fill="#000"/>
<line x1="239" y1="1148" x2="239" y2="1162" stroke="#000" stroke-width="3.4" stroke-linecap="butt"/>
<line x1="228.56" y1="1148" x2="249.44" y2="1148" stroke="#000" stroke-width="3.4" stroke-linecap="butt"/>
<line x1="228.56" y1="1162" x2="249.44" y2="1162" stroke="#000" stroke-width="3.4" stroke-linecap="butt"/>
<line x1="217.92" y1="1155" x2="260.08" y2="1155" stroke="#000" stroke-width="2.6" stroke-linecap="butt"/>
<polygon points="282.55,1209.75 296.45,1209.75 289.5,1223.65" fill="#000"/>
<polygon points="296.85,1210.95 310.75,1210.95 303.8,1224.85" fill="#000"/>
<polygon points="311.05,1209.75 324.95,1209.75 318,1223.65" fill="#000"/>
<polygon points="296.85,1228.75 310.75,1228.75 303.8,1242.65" fill="#000"/>
<polygon points="302.75,1246.45 316.65,1246.45 309.7,1260.35" fill="#000"/>
<polygon points="289.65,1258.35 303.55,1258.35 296.6,1272.25" fill="#000"/>
<line x1="303.5" y1="1211.8" x2="303.5" y2="1255.7" stroke="#000" stroke-width="3.4" stroke-linecap="butt"/>
<line x1="293.06" y1="1211.8" x2="313.94" y2="1211.8" stroke="#000" stroke-width="3.4" stroke-linecap="butt"/>
<line x1="293.06" y1="1255.7" x2="313.94" y2="1255.7" stroke="#000" stroke-width="3.4" stroke-linecap="butt"/>
<line x1="282.42" y1="1234.8" x2="324.58" y2="1234.8" stroke="#000" stroke-width="2.6" stroke-linecap="butt"/>
<polygon points="367.8,1146.71 374.89,1153.8 367.8,1160.89 360.71,1153.8" fill="#000"/>
<polygon points="367.8,1165.61 374.89,1172.7 367.8,1179.79 360.71,1172.7" fill="#000"/>
<polygon points="353.5,1173.21 360.59,1180.3 353.5,1187.39 346.41,1180.3" fill="#000"/>
<polygon points="382.5,1177.51 389.59,1184.6 382.5,1191.69 375.41,1184.6" fill="#000"/>
<polygon points="360.6,1194.11 367.69,1201.2 360.6,1208.29 353.51,1201.2" fill="#000"/>
<polygon points="373.7,1194.11 380.79,1201.2 373.7,1208.29 366.61,1201.2" fill="#000"/>
<line x1="367.3" y1="1164.4" x2="367.3" y2="1198.8" stroke="#000" stroke-width="3.4" stroke-linecap="butt"/>
<line x1="356.86" y1="1164.4" x2="377.74" y2="1164.4" stroke="#000" stroke-width="3.4" stroke-linecap="butt"/>
<line x1="356.86" y1="1198.8" x2="377.74" y2="1198.8" stroke="#000" stroke-width="3.4" stroke-linecap="butt"/>
<line x1="346.22" y1="1182.2" x2="388.38" y2="1182.2" stroke="#000" stroke-width="2.6" stroke-linecap="butt"/>
<circle cx="431.8" cy="1132.9" r="6.95" fill="#000"/>
<circle cx="418" cy="1147.8" r="6.95" fill="#000"/>
<circle cx="431.8" cy="1146.7" r="6.95" fill="#000"/>
<circle cx="446" cy="1149" r="6.95" fill="#000"/>
<circle cx="424.6" cy="1169.2" r="6.95" fill="#000"/>
<circle cx="437.7" cy="1166.8" r="6.95" fill="#000"/>
<line x1="431" y1="1137.7" x2="431" y2="1165.6" stroke="#000" stroke-width="3.4" stroke-linecap="butt"/>
<line x1="420.56" y1="1137.7" x2="441.44" y2="1137.7" stroke="#000" stroke-width="3.4" stroke-linecap="butt"/>
<line x1="420.56" y1="1165.6" x2="441.44" y2="1165.6" stroke="#000" stroke-width="3.4" stroke-linecap="butt"/>
<line x1="409.92" y1="1151.4" x2="452.08" y2="1151.4" stroke="#000" stroke-width="2.6" stroke-linecap="butt"/>
<polyline points="748.7,994 759.2,994 759.2,1334.8 1083.5,1334.8" fill="none" stroke="#000" stroke-width="2.7"/>
<line x1="748.7" y1="1334.8" x2="759.2" y2="1334.8" stroke="#000" stroke-width="2.7" stroke-linecap="butt"/>
<text x="745.5" y="1344.4" font-family="'Liberation Sans', Arial, sans-serif" font-size="26.5" font-weight="bold" text-anchor="end">0</text>
<line x1="748.7" y1="1221.2" x2="759.2" y2="1221.2" stroke="#000" stroke-width="2.7" stroke-linecap="butt"/>
<text x="745.5" y="1230.8" font-family="'Liberation Sans', Arial, sans-serif" font-size="26.5" font-weight="bold" text-anchor="end">1</text>
<line x1="748.7" y1="1107.6" x2="759.2" y2="1107.6" stroke="#000" stroke-width="2.7" stroke-linecap="butt"/>
<text x="745.5" y="1117.2" font-family="'Liberation Sans', Arial, sans-serif" font-size="26.5" font-weight="bold" text-anchor="end">2</text>
<line x1="748.7" y1="994" x2="759.2" y2="994" stroke="#000" stroke-width="2.7" stroke-linecap="butt"/>
<text x="745.5" y="1003.6" font-family="'Liberation Sans', Arial, sans-serif" font-size="26.5" font-weight="bold" text-anchor="end">3</text>
<line x1="799.3" y1="1334.8" x2="799.3" y2="1345.3" stroke="#000" stroke-width="2.7" stroke-linecap="butt"/>
<line x1="860.1" y1="1334.8" x2="860.1" y2="1345.3" stroke="#000" stroke-width="2.7" stroke-linecap="butt"/>
<line x1="920.6" y1="1334.8" x2="920.6" y2="1345.3" stroke="#000" stroke-width="2.7" stroke-linecap="butt"/>
<line x1="981.4" y1="1334.8" x2="981.4" y2="1345.3" stroke="#000" stroke-width="2.7" stroke-linecap="butt"/>
<line x1="1042.5" y1="1334.8" x2="1042.5" y2="1345.3" stroke="#000" stroke-width="2.7" stroke-linecap="butt"/>
<text x="803.8" y="1372.8" font-family="'Liberation Sans', Arial, sans-serif" font-size="26.3" font-weight="bold" text-anchor="end" transform="rotate(-45 803.8 1372.8)">CTRL</text>
<text x="870.5" y="1366.9" font-family="'Liberation Sans', Arial, sans-serif" font-size="26.3" font-weight="bold" text-anchor="end" transform="rotate(-45 870.5 1366.9)">BMS 10</text>
<text x="931" y="1366.9" font-family="'Liberation Sans', Arial, sans-serif" font-size="26.3" font-weight="bold" text-anchor="end" transform="rotate(-45 931 1366.9)">ch.colitis</text>
<text x="991.8" y="1366.9" font-family="'Liberation Sans', Arial, sans-serif" font-size="26.3" font-weight="bold" text-anchor="end" transform="rotate(-45 991.8 1366.9)">ch.colitis/BMS 5</text>
<text x="1052.9" y="1366.9" font-family="'Liberation Sans', Arial, sans-serif" font-size="26.3" font-weight="bold" text-anchor="end" transform="rotate(-45 1052.9 1366.9)">ch.colitis/BMS 10</text>
<text x="718.5" y="1159.8" font-family="'Liberation Sans', Arial, sans-serif" font-size="21.2" font-weight="bold" text-anchor="middle" transform="rotate(-90 718.5 1159.8)">Bax/BCL-2</text>
<text x="628" y="866.8" font-family="'Liberation Sans', Arial, sans-serif" font-size="65" font-weight="bold" text-anchor="start">F</text>
<polyline points="799.1,862.6 799.1,823.3 1042.8,823.3 1042.8,917.6" fill="none" stroke="#000" stroke-width="2.5" stroke-linejoin="miter"/>
<text x="920.95" y="810.9" font-family="'Liberation Sans', Arial, sans-serif" font-size="21.6" font-weight="normal" text-anchor="middle">ns</text>
<polyline points="799.1,972.3 799.1,878.9 981.9,878.9 981.9,893.8" fill="none" stroke="#000" stroke-width="2.5" stroke-linejoin="miter"/>
<text x="890.5" y="866.5" font-family="'Liberation Sans', Arial, sans-serif" font-size="21.6" font-weight="normal" text-anchor="middle">ns</text>
<polyline points="921,972.3 921,933.6 1042.8,933.6 1042.8,972.3" fill="none" stroke="#000" stroke-width="2.5" stroke-linejoin="miter"/>
<text x="983.6" y="928.64" font-family="'DejaVu Sans', 'Liberation Sans', sans-serif" font-size="23.5" font-weight="bold" text-anchor="middle" letter-spacing="3.4" stroke="#000" stroke-width="1.3" stroke-linejoin="round">**</text>
<polyline points="799.3,1270.6 799.3,987.4 916.4,987.4 916.4,1001.9" fill="none" stroke="#000" stroke-width="2.5" stroke-linejoin="miter"/>
<text x="859.55" y="982.44" font-family="'DejaVu Sans', 'Liberation Sans', sans-serif" font-size="23.5" font-weight="bold" text-anchor="middle" letter-spacing="3.4" stroke="#000" stroke-width="1.3" stroke-linejoin="round">***</text>
<polyline points="926.4,1001.9 926.4,987.4 976.7,987.4 976.7,1222.1" fill="none" stroke="#000" stroke-width="2.5" stroke-linejoin="miter"/>
<text x="953.25" y="982.44" font-family="'DejaVu Sans', 'Liberation Sans', sans-serif" font-size="23.5" font-weight="bold" text-anchor="middle" letter-spacing="3.4" stroke="#000" stroke-width="1.3" stroke-linejoin="round">*</text>
<polyline points="986.7,1222.1 986.7,987.4 1042.5,987.4 1042.5,1247" fill="none" stroke="#000" stroke-width="2.5" stroke-linejoin="miter"/>
<text x="1014.6" y="975" font-family="'Liberation Sans', Arial, sans-serif" font-size="21.6" font-weight="normal" text-anchor="middle">ns</text>
<circle cx="786.2" cy="1295.5" r="6.6" fill="#000"/>
<circle cx="792.7" cy="1289" r="6.6" fill="#000"/>
<circle cx="800.6" cy="1294.2" r="6.6" fill="#000"/>
<circle cx="813.7" cy="1287.1" r="6.6" fill="#000"/>
<circle cx="813.7" cy="1300.2" r="6.6" fill="#000"/>
<circle cx="805" cy="1292" r="6.6" fill="#000"/>
<line x1="799.3" y1="1289.5" x2="799.3" y2="1297.5" stroke="#000" stroke-width="3.4" stroke-linecap="butt"/>
<line x1="789.37" y1="1289.5" x2="809.23" y2="1289.5" stroke="#000" stroke-width="3.4" stroke-linecap="butt"/>
<line x1="789.37" y1="1297.5" x2="809.23" y2="1297.5" stroke="#000" stroke-width="3.4" stroke-linecap="butt"/>
<line x1="779.24" y1="1293.4" x2="819.36" y2="1293.4" stroke="#000" stroke-width="2.6" stroke-linecap="butt"/>
<rect x="839.8" y="1274.4" width="13.2" height="13.2" fill="#000"/>
<rect x="858.3" y="1271.7" width="13.2" height="13.2" fill="#000"/>
<rect x="867.4" y="1282.4" width="13.2" height="13.2" fill="#000"/>
<rect x="858.3" y="1285.6" width="13.2" height="13.2" fill="#000"/>
<rect x="839.8" y="1290.9" width="13.2" height="13.2" fill="#000"/>
<rect x="845.6" y="1274.4" width="13.2" height="13.2" fill="#000"/>
<line x1="860.1" y1="1279.5" x2="860.1" y2="1293.3" stroke="#000" stroke-width="3.4" stroke-linecap="butt"/>
<line x1="850.17" y1="1279.5" x2="870.03" y2="1279.5" stroke="#000" stroke-width="3.4" stroke-linecap="butt"/>
<line x1="850.17" y1="1293.3" x2="870.03" y2="1293.3" stroke="#000" stroke-width="3.4" stroke-linecap="butt"/>
<line x1="840.04" y1="1285.5" x2="880.16" y2="1285.5" stroke="#000" stroke-width="2.6" stroke-linecap="butt"/>
<polygon points="914,1011.8 927.2,1011.8 920.6,1025" fill="#000"/>
<polygon points="914,1117.2 927.2,1117.2 920.6,1130.4" fill="#000"/>
<polygon points="914,1177.5 927.2,1177.5 920.6,1190.7" fill="#000"/>
<polygon points="914,1205 927.2,1205 920.6,1218.2" fill="#000"/>
<polygon points="900.9,1231.2 914.1,1231.2 907.5,1244.4" fill="#000"/>
<polygon points="928.2,1229.4 941.4,1229.4 934.8,1242.6" fill="#000"/>
<line x1="920.6" y1="1082.7" x2="920.6" y2="1252.8" stroke="#000" stroke-width="3.4" stroke-linecap="butt"/>
<line x1="910.67" y1="1082.7" x2="930.53" y2="1082.7" stroke="#000" stroke-width="3.4" stroke-linecap="butt"/>
<line x1="910.67" y1="1252.8" x2="930.53" y2="1252.8" stroke="#000" stroke-width="3.4" stroke-linecap="butt"/>
<line x1="900.54" y1="1167.9" x2="940.66" y2="1167.9" stroke="#000" stroke-width="2.6" stroke-linecap="butt"/>
<polygon points="976.7,1231.67 983.43,1238.4 976.7,1245.13 969.97,1238.4" fill="#000"/>
<polygon points="968.3,1237.67 975.03,1244.4 968.3,1251.13 961.57,1244.4" fill="#000"/>
<polygon points="984,1244.27 990.73,1251 984,1257.73 977.27,1251" fill="#000"/>
<polygon points="995.3,1248.97 1002.03,1255.7 995.3,1262.43 988.57,1255.7" fill="#000"/>
<polygon points="977.5,1248.17 984.23,1254.9 977.5,1261.63 970.77,1254.9" fill="#000"/>
<polygon points="968.3,1256.77 975.03,1263.5 968.3,1270.23 961.57,1263.5" fill="#000"/>
<line x1="981.4" y1="1243.1" x2="981.4" y2="1263.5" stroke="#000" stroke-width="3.4" stroke-linecap="butt"/>
<line x1="971.47" y1="1243.1" x2="991.33" y2="1243.1" stroke="#000" stroke-width="3.4" stroke-linecap="butt"/>
<line x1="971.47" y1="1263.5" x2="991.33" y2="1263.5" stroke="#000" stroke-width="3.4" stroke-linecap="butt"/>
<line x1="961.34" y1="1252.3" x2="1001.46" y2="1252.3" stroke="#000" stroke-width="2.6" stroke-linecap="butt"/>
<circle cx="1042.5" cy="1262.8" r="6.6" fill="#000"/>
<circle cx="1056.7" cy="1267.2" r="6.6" fill="#000"/>
<circle cx="1028.6" cy="1273.2" r="6.6" fill="#000"/>
<circle cx="1042.5" cy="1278.5" r="6.6" fill="#000"/>
<circle cx="1056.7" cy="1281.1" r="6.6" fill="#000"/>
<circle cx="1028.6" cy="1286.3" r="6.6" fill="#000"/>
<line x1="1042.5" y1="1265.4" x2="1042.5" y2="1283.7" stroke="#000" stroke-width="1.6" stroke-linecap="butt"/>
<line x1="1032.57" y1="1265.4" x2="1052.43" y2="1265.4" stroke="#000" stroke-width="1.6" stroke-linecap="butt"/>
<line x1="1032.57" y1="1283.7" x2="1052.43" y2="1283.7" stroke="#000" stroke-width="1.6" stroke-linecap="butt"/>
<line x1="1022.44" y1="1274.5" x2="1062.56" y2="1274.5" stroke="#000" stroke-width="2.6" stroke-linecap="butt"/>
<polyline points="1383.5,978.55 1394,978.55 1394,1330.6 1730.4,1330.6" fill="none" stroke="#000" stroke-width="2.7"/>
<line x1="1383.5" y1="1330.6" x2="1394" y2="1330.6" stroke="#000" stroke-width="2.7" stroke-linecap="butt"/>
<text x="1380.3" y="1340.2" font-family="'Liberation Sans', Arial, sans-serif" font-size="26.5" font-weight="bold" text-anchor="end">0</text>
<line x1="1383.5" y1="1213.25" x2="1394" y2="1213.25" stroke="#000" stroke-width="2.7" stroke-linecap="butt"/>
<text x="1380.3" y="1222.85" font-family="'Liberation Sans', Arial, sans-serif" font-size="26.5" font-weight="bold" text-anchor="end">5</text>
<line x1="1383.5" y1="1095.9" x2="1394" y2="1095.9" stroke="#000" stroke-width="2.7" stroke-linecap="butt"/>
<text x="1380.3" y="1105.5" font-family="'Liberation Sans', Arial, sans-serif" font-size="26.5" font-weight="bold" text-anchor="end">10</text>
<line x1="1383.5" y1="978.55" x2="1394" y2="978.55" stroke="#000" stroke-width="2.7" stroke-linecap="butt"/>
<text x="1380.3" y="988.15" font-family="'Liberation Sans', Arial, sans-serif" font-size="26.5" font-weight="bold" text-anchor="end">15</text>
<line x1="1436" y1="1330.6" x2="1436" y2="1341.1" stroke="#000" stroke-width="2.7" stroke-linecap="butt"/>
<line x1="1498.9" y1="1330.6" x2="1498.9" y2="1341.1" stroke="#000" stroke-width="2.7" stroke-linecap="butt"/>
<line x1="1561.3" y1="1330.6" x2="1561.3" y2="1341.1" stroke="#000" stroke-width="2.7" stroke-linecap="butt"/>
<line x1="1624.2" y1="1330.6" x2="1624.2" y2="1341.1" stroke="#000" stroke-width="2.7" stroke-linecap="butt"/>
<line x1="1687.6" y1="1330.6" x2="1687.6" y2="1341.1" stroke="#000" stroke-width="2.7" stroke-linecap="butt"/>
<text x="1440.5" y="1370.6" font-family="'Liberation Sans', Arial, sans-serif" font-size="26.9" font-weight="bold" text-anchor="end" transform="rotate(-45 1440.5 1370.6)">CTRL</text>
<text x="1507.9" y="1366.1" font-family="'Liberation Sans', Arial, sans-serif" font-size="26.9" font-weight="bold" text-anchor="end" transform="rotate(-45 1507.9 1366.1)">BMS 10</text>
<text x="1570.3" y="1366.1" font-family="'Liberation Sans', Arial, sans-serif" font-size="26.9" font-weight="bold" text-anchor="end" transform="rotate(-45 1570.3 1366.1)">ch.colitis</text>
<text x="1633.2" y="1366.1" font-family="'Liberation Sans', Arial, sans-serif" font-size="26.9" font-weight="bold" text-anchor="end" transform="rotate(-45 1633.2 1366.1)">ch.colitis/BMS 5</text>
<text x="1696.6" y="1366.1" font-family="'Liberation Sans', Arial, sans-serif" font-size="26.9" font-weight="bold" text-anchor="end" transform="rotate(-45 1696.6 1366.1)">ch.colitis/BMS 10</text>
<text x="1315.5" y="1150.7" font-family="'Liberation Sans', Arial, sans-serif" font-size="21.6" font-weight="bold" text-anchor="middle" transform="rotate(-90 1315.5 1150.7)">A-caspase-3</text>
<text x="1338.5" y="1149.8" font-family="'Liberation Sans', Arial, sans-serif" font-size="17.8" font-weight="normal" text-anchor="middle" transform="rotate(-90 1338.5 1149.8)">Fold change vs CTRL</text>
<text x="1280" y="866" font-family="'Liberation Sans', Arial, sans-serif" font-size="65" font-weight="bold" text-anchor="start">G</text>
<polyline points="1436.1,946.3 1436.1,905.6 1688,905.6 1688,1002.6" fill="none" stroke="#000" stroke-width="2.5" stroke-linejoin="miter"/>
<text x="1563.75" y="900.64" font-family="'DejaVu Sans', 'Liberation Sans', sans-serif" font-size="23.5" font-weight="bold" text-anchor="middle" letter-spacing="3.4" stroke="#000" stroke-width="1.3" stroke-linejoin="round">****</text>
<polyline points="1436.1,1058.7 1436.1,962 1625.1,962 1625.1,977.4" fill="none" stroke="#000" stroke-width="2.5" stroke-linejoin="miter"/>
<text x="1532.3" y="957.04" font-family="'DejaVu Sans', 'Liberation Sans', sans-serif" font-size="23.5" font-weight="bold" text-anchor="middle" letter-spacing="3.4" stroke="#000" stroke-width="1.3" stroke-linejoin="round">****</text>
<polyline points="1561.5,1058.7 1561.5,1018.9 1688,1018.9 1688,1058.7" fill="none" stroke="#000" stroke-width="2.5" stroke-linejoin="miter"/>
<text x="1626.45" y="1013.94" font-family="'DejaVu Sans', 'Liberation Sans', sans-serif" font-size="23.5" font-weight="bold" text-anchor="middle" letter-spacing="3.4" stroke="#000" stroke-width="1.3" stroke-linejoin="round">**</text>
<polyline points="1436,1289 1436,1075.4 1556.8,1075.4 1556.8,1090.3" fill="none" stroke="#000" stroke-width="2.5" stroke-linejoin="miter"/>
<text x="1498.1" y="1070.44" font-family="'DejaVu Sans', 'Liberation Sans', sans-serif" font-size="23.5" font-weight="bold" text-anchor="middle" letter-spacing="3.4" stroke="#000" stroke-width="1.3" stroke-linejoin="round">****</text>
<polyline points="1567,1090.3 1567,1075.4 1619.7,1075.4 1619.7,1127.8" fill="none" stroke="#000" stroke-width="2.5" stroke-linejoin="miter"/>
<text x="1595.05" y="1070.44" font-family="'DejaVu Sans', 'Liberation Sans', sans-serif" font-size="23.5" font-weight="bold" text-anchor="middle" letter-spacing="3.4" stroke="#000" stroke-width="1.3" stroke-linejoin="round">*</text>
<polyline points="1630,1127.8 1630,1075.4 1687.6,1075.4 1687.6,1164.5" fill="none" stroke="#000" stroke-width="2.5" stroke-linejoin="miter"/>
<text x="1658.8" y="1063" font-family="'Liberation Sans', Arial, sans-serif" font-size="21.6" font-weight="normal" text-anchor="middle">ns</text>
<line x1="1436.75" y1="1307.7" x2="1436.75" y2="1305.5" stroke="#000" stroke-width="3.7" stroke-linecap="butt"/>
<line x1="1426.35" y1="1305.5" x2="1447.15" y2="1305.5" stroke="#000" stroke-width="4" stroke-linecap="butt"/>
<rect x="1415.9" y="1307.7" width="41.7" height="22.9" fill="#848484"/>
<polyline points="1418.25,1330.6 1418.25,1310.05 1455.25,1310.05 1455.25,1330.6" fill="none" stroke="#000" stroke-width="4.7"/>
<line x1="1499.15" y1="1296.8" x2="1499.15" y2="1291" stroke="#000" stroke-width="3.7" stroke-linecap="butt"/>
<line x1="1488.75" y1="1291" x2="1509.55" y2="1291" stroke="#000" stroke-width="4" stroke-linecap="butt"/>
<rect x="1478" y="1296.8" width="42.3" height="33.8" fill="#a0a0a4"/>
<polyline points="1480.35,1330.6 1480.35,1299.15 1517.95,1299.15 1517.95,1330.6" fill="none" stroke="#000" stroke-width="4.7"/>
<line x1="1562.15" y1="1136.9" x2="1562.15" y2="1106.5" stroke="#000" stroke-width="3.7" stroke-linecap="butt"/>
<line x1="1551.75" y1="1106.5" x2="1572.55" y2="1106.5" stroke="#000" stroke-width="4" stroke-linecap="butt"/>
<rect x="1541.3" y="1136.9" width="41.7" height="193.7" fill="#808080"/>
<polyline points="1543.65,1330.6 1543.65,1139.25 1580.65,1139.25 1580.65,1330.6" fill="none" stroke="#000" stroke-width="4.7"/>
<line x1="1624.9" y1="1184.3" x2="1624.9" y2="1143.2" stroke="#000" stroke-width="3.7" stroke-linecap="butt"/>
<line x1="1614.5" y1="1143.2" x2="1635.3" y2="1143.2" stroke="#000" stroke-width="4" stroke-linecap="butt"/>
<rect x="1603.7" y="1184.3" width="42.4" height="146.3" fill="#d0d0d0"/>
<polyline points="1606.05,1330.6 1606.05,1186.65 1643.75,1186.65 1643.75,1330.6" fill="none" stroke="#000" stroke-width="4.7"/>
<line x1="1687.65" y1="1206.2" x2="1687.65" y2="1181.5" stroke="#000" stroke-width="3.7" stroke-linecap="butt"/>
<line x1="1677.25" y1="1181.5" x2="1698.05" y2="1181.5" stroke="#000" stroke-width="4" stroke-linecap="butt"/>
<rect x="1666.4" y="1206.2" width="42.5" height="124.4" fill="#616161"/>
<polyline points="1668.75,1330.6 1668.75,1208.55 1706.55,1208.55 1706.55,1330.6" fill="none" stroke="#000" stroke-width="4.7"/>
<line x1="1383.5" y1="1330.6" x2="1730.4" y2="1330.6" stroke="#000" stroke-width="2.7" stroke-linecap="butt"/>
</svg>
</body></html>
